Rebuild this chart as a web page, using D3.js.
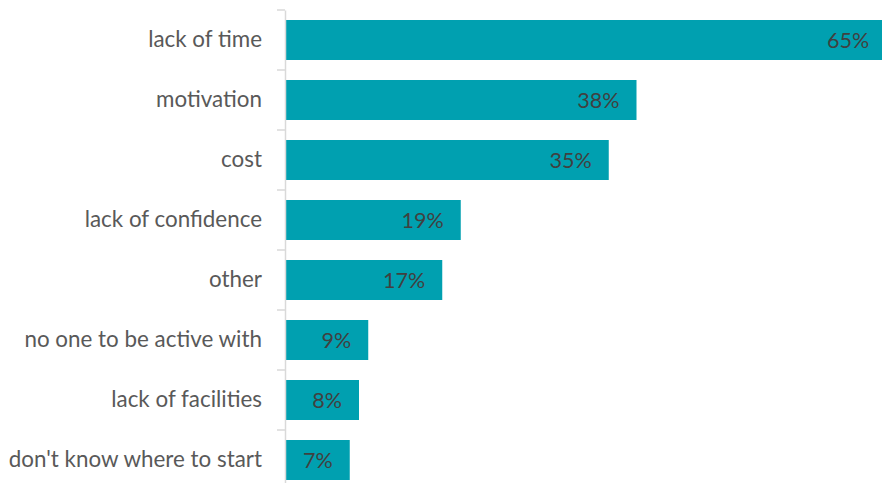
<!DOCTYPE html>
<html><head><meta charset="utf-8">
<script src="https://cdn.jsdelivr.net/npm/d3@7"></script>
<style>html,body{margin:0;padding:0;background:#fff;}svg{display:block;}</style>
</head><body>
<svg id="chart" width="882" height="483"></svg>
<script>
const categories = ["lack of time","motivation","cost","lack of confidence","other","no one to be active with","lack of facilities","don't know where to start"];
const values = [65,38,35,19,17,9,8,7];
const valueLabels = ["65%","38%","35%","19%","17%","9%","8%","7%"];

(function(){
const W = 882, H = 483;
const left = 285, plotTop = 10;
const svg = d3.select("#chart");
const font = "Lato, 'Open Sans', sans-serif";

const y = d3.scaleBand().domain(categories).range([plotTop, plotTop + 60*categories.length]).paddingInner(1/3).paddingOuter(1/6);
const x = d3.scaleLinear().domain([0, 65]).range([left, left + 65*9.25]);

svg.selectAll("rect.bar").data(values).join("rect")
  .attr("class","bar")
  .attr("x", left)
  .attr("y", (d,i)=>y(categories[i]))
  .attr("width", d=>x(d)-left)
  .attr("height", y.bandwidth())
  .attr("fill", "#00A0B0");

const axis = d3.axisLeft(y).tickSize(0).tickPadding(23).tickSizeOuter(0);
const g = svg.append("g").attr("transform", `translate(${left},0)`).call(axis);
g.select(".domain").attr("stroke","#d9d9d9").attr("stroke-width",1.5);
g.selectAll(".tick text").attr("font-family", font).attr("font-size", 22.4).attr("fill","#595959");
const bounds = d3.range(categories.length+1).map(i => plotTop + 60*i);
svg.selectAll("line.bt").data(bounds).join("line")
  .attr("class","bt")
  .attr("x1", left-8).attr("x2", left).attr("y1", d=>d).attr("y2", d=>d)
  .attr("stroke","#d9d9d9").attr("stroke-width",1.5);

svg.selectAll("text.val").data(values).join("text")
  .attr("class","val")
  .attr("x", d=>Math.min(x(d)-17, W-6))
  .attr("y", (d,i)=>y(categories[i]) + y.bandwidth()/2)
  .attr("dy","0.35em")
  .attr("text-anchor","end")
  .attr("font-family", font).attr("font-size", 21.5).attr("fill","#404040")
  .text((d,i)=>valueLabels[i]);
})();
</script>
</body></html>
